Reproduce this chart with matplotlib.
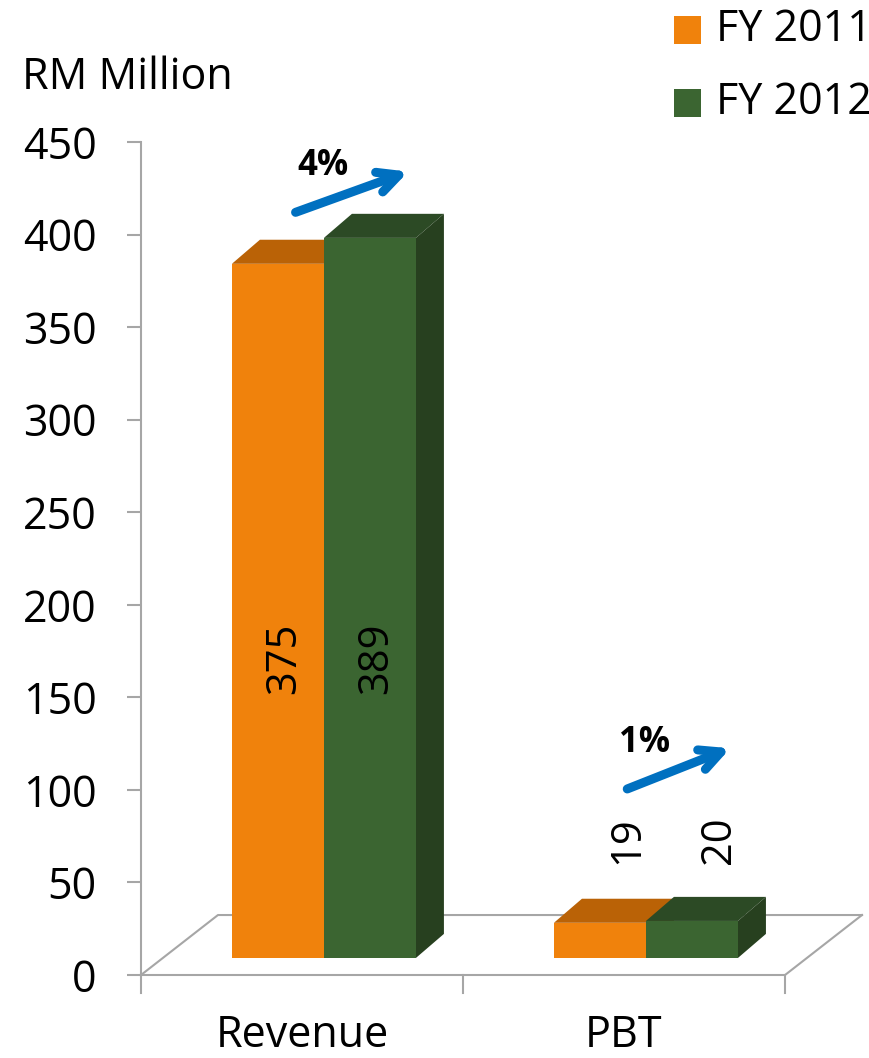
import matplotlib
matplotlib.use('Agg')
import matplotlib.pyplot as plt
from matplotlib.patches import Polygon, Rectangle

plt.rcParams['font.family'] = ['Open Sans', 'DejaVu Sans']

# data
categories = ['Revenue', 'PBT']
fy2011 = [375, 19]
fy2012 = [389, 20]
series_names = ['FY 2011', 'FY 2012']
growth = ['4%', '1%']
yticks = [0, 50, 100, 150, 200, 250, 300, 350, 400, 450]

# colours (front, top, side)
orange = ('#F0820C', '#BA6206', '#A85805')
green = ('#3B6531', '#2C4A25', '#27401F')
blue = '#0070C0'
grey = '#A6A6A6'

fig = plt.figure(figsize=(8.7, 10.58), dpi=100)
W, H = 870, 1058
ax = fig.add_axes([141 / W, (H - 975) / H, (862 - 141) / W, (975 - 142) / H])
ax.set_xlim(0, 2.239)
ax.set_ylim(0, 450)

# floor / depth geometry in data units
floor_dx, floor_dy = 0.239, 32.4
bar_dx0, bar_dy0 = 0.068, 9.2     # where the front of the bars sits
depth_dx, depth_dy = 0.087, 13.0  # bar depth
bw = 0.2857

# floor
ax.plot([0, 2, 2 + floor_dx], [0, 0, floor_dy], color=grey, lw=1.5, clip_on=False, zorder=1)
ax.plot([0, floor_dx, 2 + floor_dx], [0, floor_dy, floor_dy], color=grey, lw=1.5, clip_on=False, zorder=1)
for xt in range(len(categories) + 1):
    ax.plot([xt, xt], [0, -9.5], color=grey, lw=1.5, clip_on=False, zorder=1)


def bar3d(x0, v, cols):
    y0 = bar_dy0
    ax.add_patch(Polygon([(x0, y0 + v), (x0 + bw, y0 + v),
                          (x0 + bw + depth_dx, y0 + v + depth_dy), (x0 + depth_dx, y0 + v + depth_dy)],
                         closed=True, facecolor=cols[1], edgecolor='none', zorder=3))
    ax.add_patch(Polygon([(x0 + bw, y0), (x0 + bw + depth_dx, y0 + depth_dy),
                          (x0 + bw + depth_dx, y0 + v + depth_dy), (x0 + bw, y0 + v)],
                         closed=True, facecolor=cols[2], edgecolor='none', zorder=3))
    ax.add_patch(Rectangle((x0, y0), bw, v, facecolor=cols[0], edgecolor='none', zorder=4))


for i, cat in enumerate(categories):
    c = i + 0.5
    x_or = c + bar_dx0 - bw
    x_gr = c + bar_dx0
    bar3d(x_or, fy2011[i], orange)
    bar3d(x_gr, fy2012[i], green)
    ax.text(c, -21, cat, ha='center', va='top', fontsize=31)

# value labels (inside for big bars, above for small ones)
label_y = [171, 73]
label_dx = [0.02, 0.085]
for i in range(len(categories)):
    c = i + 0.5
    for x0, v in [(c + bar_dx0 - bw, fy2011[i]), (c + bar_dx0, fy2012[i])]:
        ax.text(x0 + bw / 2 + label_dx[i], label_y[i], str(v), rotation=90,
                ha='center', va='center', fontsize=30, zorder=6)

# growth arrows
arrow_y = [412, 100.5]
arrow_x = [-0.02, 0.01]
for i in range(len(categories)):
    c = i + 0.5
    ax.annotate('', xy=(c + 0.33, arrow_y[i] + 22), xytext=(c + arrow_x[i], arrow_y[i]),
                arrowprops=dict(arrowstyle='->,head_length=1.5,head_width=0.75',
                                color=blue, lw=6.5, shrinkA=0, shrinkB=0), zorder=6)
    ax.text(c + 0.065, arrow_y[i] + 25, growth[i], ha='center', va='center',
            fontsize=25, fontweight='bold', zorder=6)

# axis styling
for s in ['top', 'right', 'bottom']:
    ax.spines[s].set_visible(False)
ax.spines['left'].set_color(grey)
ax.spines['left'].set_linewidth(1.5)
ax.set_yticks(yticks)
ax.tick_params(axis='y', length=10, width=1.5, color=grey, pad=22, labelsize=31)
ax.set_xticks([])
ax.set_facecolor('none')

fig.text(22 / W, 1 - 78 / H, 'RM Million', ha='left', va='center', fontsize=31)

# legend
for j, (name, cols) in enumerate(zip(series_names, [orange, green])):
    yc = 30 + j * 73
    fig.patches.append(Rectangle((674 / W, 1 - (yc + 13.5) / H), 27 / W, 27 / H,
                                 transform=fig.transFigure, facecolor=cols[0], edgecolor='none'))
    fig.text(716 / W, 1 - yc / H, name, ha='left', va='center', fontsize=31)

fig.savefig('out.png', dpi=100)
